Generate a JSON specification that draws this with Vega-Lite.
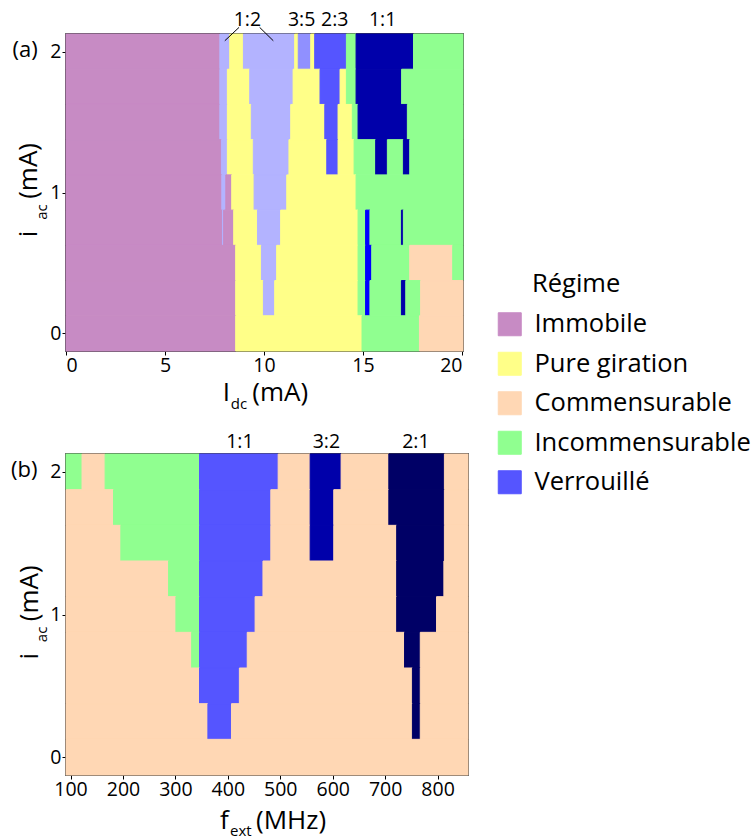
{
"$schema":"https://vega.github.io/schema/vega-lite/v6.json",
"padding":{"left":10,"top":8,"right":0,"bottom":0},
"background":"white",
"config":{"font":"Open Sans","view":{"stroke":"black","strokeWidth":1.5},
 "axis":{"grid":false,"domain":false,"tickColor":"black","tickSize":4,"tickWidth":1,"labelFontSize":19.5,"labelColor":"black","labelPadding":1,"title":null}},
"datasets":{
"rectsA":[
{"c":"Immobile","x0":0,"x1":7.77,"y0":1.875,"y1":2.125},
{"c":"Verrouillé clair","x0":7.77,"x1":8.27,"y0":1.875,"y1":2.125},
{"c":"Pure giration","x0":8.27,"x1":8.96,"y0":1.875,"y1":2.125},
{"c":"Verrouillé clair","x0":8.96,"x1":11.55,"y0":1.875,"y1":2.125},
{"c":"Pure giration","x0":11.55,"x1":11.73,"y0":1.875,"y1":2.125},
{"c":"Verrouillé moyen","x0":11.73,"x1":12.36,"y0":1.875,"y1":2.125},
{"c":"Pure giration","x0":12.36,"x1":12.56,"y0":1.875,"y1":2.125},
{"c":"Verrouillé","x0":12.56,"x1":14.16,"y0":1.875,"y1":2.125},
{"c":"Incommensurable","x0":14.16,"x1":14.65,"y0":1.875,"y1":2.125},
{"c":"Verrouillé foncé","x0":14.65,"x1":17.55,"y0":1.875,"y1":2.125},
{"c":"Incommensurable","x0":17.55,"x1":20.05,"y0":1.875,"y1":2.125},

{"c":"Immobile","x0":0,"x1":7.77,"y0":1.625,"y1":1.875},
{"c":"Verrouillé clair","x0":7.77,"x1":8.15,"y0":1.625,"y1":1.875},
{"c":"Pure giration","x0":8.15,"x1":9.28,"y0":1.625,"y1":1.875},
{"c":"Verrouillé clair","x0":9.28,"x1":11.47,"y0":1.625,"y1":1.875},
{"c":"Pure giration","x0":11.47,"x1":12.83,"y0":1.625,"y1":1.875},
{"c":"Verrouillé","x0":12.83,"x1":13.84,"y0":1.625,"y1":1.875},
{"c":"Pure giration","x0":13.84,"x1":14.16,"y0":1.625,"y1":1.875},
{"c":"Incommensurable","x0":14.16,"x1":14.65,"y0":1.625,"y1":1.875},
{"c":"Verrouillé foncé","x0":14.65,"x1":16.95,"y0":1.625,"y1":1.875},
{"c":"Incommensurable","x0":16.95,"x1":20.05,"y0":1.625,"y1":1.875},

{"c":"Immobile","x0":0,"x1":7.77,"y0":1.375,"y1":1.625},
{"c":"Verrouillé clair","x0":7.77,"x1":8.15,"y0":1.375,"y1":1.625},
{"c":"Pure giration","x0":8.15,"x1":9.36,"y0":1.375,"y1":1.625},
{"c":"Verrouillé clair","x0":9.36,"x1":11.35,"y0":1.375,"y1":1.625},
{"c":"Pure giration","x0":11.35,"x1":13.07,"y0":1.375,"y1":1.625},
{"c":"Verrouillé","x0":13.07,"x1":13.74,"y0":1.375,"y1":1.625},
{"c":"Pure giration","x0":13.74,"x1":14.46,"y0":1.375,"y1":1.625},
{"c":"Incommensurable","x0":14.46,"x1":14.75,"y0":1.375,"y1":1.625},
{"c":"Verrouillé foncé","x0":14.75,"x1":17.24,"y0":1.375,"y1":1.625},
{"c":"Incommensurable","x0":17.24,"x1":20.05,"y0":1.375,"y1":1.625},

{"c":"Immobile","x0":0,"x1":7.85,"y0":1.125,"y1":1.375},
{"c":"Verrouillé clair","x0":7.85,"x1":8.15,"y0":1.125,"y1":1.375},
{"c":"Pure giration","x0":8.15,"x1":9.46,"y0":1.125,"y1":1.375},
{"c":"Verrouillé clair","x0":9.46,"x1":11.26,"y0":1.125,"y1":1.375},
{"c":"Pure giration","x0":11.26,"x1":13.17,"y0":1.125,"y1":1.375},
{"c":"Verrouillé","x0":13.17,"x1":13.74,"y0":1.125,"y1":1.375},
{"c":"Pure giration","x0":13.74,"x1":14.55,"y0":1.125,"y1":1.375},
{"c":"Incommensurable","x0":14.55,"x1":15.64,"y0":1.125,"y1":1.375},
{"c":"Verrouillé foncé","x0":15.64,"x1":16.23,"y0":1.125,"y1":1.375},
{"c":"Incommensurable","x0":16.23,"x1":17.04,"y0":1.125,"y1":1.375},
{"c":"Verrouillé foncé","x0":17.04,"x1":17.36,"y0":1.125,"y1":1.375},
{"c":"Incommensurable","x0":17.36,"x1":20.05,"y0":1.125,"y1":1.375},

{"c":"Immobile","x0":0,"x1":7.87,"y0":0.875,"y1":1.125},
{"c":"Verrouillé clair","x0":7.87,"x1":8.07,"y0":0.875,"y1":1.125},
{"c":"Immobile","x0":8.07,"x1":8.37,"y0":0.875,"y1":1.125},
{"c":"Pure giration","x0":8.37,"x1":9.5,"y0":0.875,"y1":1.125},
{"c":"Verrouillé clair","x0":9.5,"x1":11.15,"y0":0.875,"y1":1.125},
{"c":"Pure giration","x0":11.15,"x1":14.65,"y0":0.875,"y1":1.125},
{"c":"Incommensurable","x0":14.65,"x1":20.05,"y0":0.875,"y1":1.125},

{"c":"Immobile","x0":0,"x1":7.9,"y0":0.625,"y1":0.875},
{"c":"Verrouillé clair","x0":7.9,"x1":7.96,"y0":0.625,"y1":0.875},
{"c":"Immobile","x0":7.96,"x1":8.47,"y0":0.625,"y1":0.875},
{"c":"Pure giration","x0":8.47,"x1":9.67,"y0":0.625,"y1":0.875},
{"c":"Verrouillé clair","x0":9.67,"x1":10.84,"y0":0.625,"y1":0.875},
{"c":"Pure giration","x0":10.84,"x1":14.75,"y0":0.625,"y1":0.875},
{"c":"Incommensurable","x0":14.75,"x1":15.13,"y0":0.625,"y1":0.875},
{"c":"Verrouillé vif","x0":15.13,"x1":15.35,"y0":0.625,"y1":0.875},
{"c":"Incommensurable","x0":15.35,"x1":16.94,"y0":0.625,"y1":0.875},
{"c":"Verrouillé foncé","x0":16.94,"x1":17.04,"y0":0.625,"y1":0.875},
{"c":"Incommensurable","x0":17.04,"x1":20.05,"y0":0.625,"y1":0.875},

{"c":"Immobile","x0":0,"x1":8.57,"y0":0.375,"y1":0.625},
{"c":"Pure giration","x0":8.57,"x1":9.87,"y0":0.375,"y1":0.625},
{"c":"Verrouillé clair","x0":9.87,"x1":10.64,"y0":0.375,"y1":0.625},
{"c":"Pure giration","x0":10.64,"x1":14.75,"y0":0.375,"y1":0.625},
{"c":"Incommensurable","x0":14.75,"x1":15.13,"y0":0.375,"y1":0.625},
{"c":"Verrouillé vif","x0":15.13,"x1":15.44,"y0":0.375,"y1":0.625},
{"c":"Incommensurable","x0":15.44,"x1":17.36,"y0":0.375,"y1":0.625},
{"c":"Commensurable","x0":17.36,"x1":19.53,"y0":0.375,"y1":0.625},
{"c":"Incommensurable","x0":19.53,"x1":20.05,"y0":0.375,"y1":0.625},

{"c":"Immobile","x0":0,"x1":8.57,"y0":0.125,"y1":0.375},
{"c":"Pure giration","x0":8.57,"x1":9.97,"y0":0.125,"y1":0.375},
{"c":"Verrouillé clair","x0":9.97,"x1":10.54,"y0":0.125,"y1":0.375},
{"c":"Pure giration","x0":10.54,"x1":14.75,"y0":0.125,"y1":0.375},
{"c":"Incommensurable","x0":14.75,"x1":15.13,"y0":0.125,"y1":0.375},
{"c":"Verrouillé vif","x0":15.13,"x1":15.35,"y0":0.125,"y1":0.375},
{"c":"Incommensurable","x0":15.35,"x1":16.94,"y0":0.125,"y1":0.375},
{"c":"Verrouillé foncé","x0":16.94,"x1":17.16,"y0":0.125,"y1":0.375},
{"c":"Incommensurable","x0":17.16,"x1":17.91,"y0":0.125,"y1":0.375},
{"c":"Commensurable","x0":17.91,"x1":20.05,"y0":0.125,"y1":0.375},

{"c":"Immobile","x0":0,"x1":8.57,"y0":-0.125,"y1":0.125},
{"c":"Pure giration","x0":8.57,"x1":14.95,"y0":-0.125,"y1":0.125},
{"c":"Incommensurable","x0":14.95,"x1":17.85,"y0":-0.125,"y1":0.125},
{"c":"Commensurable","x0":17.85,"x1":20.05,"y0":-0.125,"y1":0.125}
],
"rectsB":[
{"c":"Incommensurable","x0":91.4,"x1":122,"y0":1.875,"y1":2.125},
{"c":"Commensurable","x0":122,"x1":166,"y0":1.875,"y1":2.125},
{"c":"Incommensurable","x0":166,"x1":346,"y0":1.875,"y1":2.125},
{"c":"Verrouillé","x0":346,"x1":496,"y0":1.875,"y1":2.125},
{"c":"Commensurable","x0":496,"x1":557,"y0":1.875,"y1":2.125},
{"c":"Verrouillé foncé","x0":557,"x1":616,"y0":1.875,"y1":2.125},
{"c":"Commensurable","x0":616,"x1":707,"y0":1.875,"y1":2.125},
{"c":"Verrouillé nuit","x0":707,"x1":813,"y0":1.875,"y1":2.125},
{"c":"Commensurable","x0":813,"x1":858,"y0":1.875,"y1":2.125},

{"c":"Commensurable","x0":91.4,"x1":182,"y0":1.625,"y1":1.875},
{"c":"Incommensurable","x0":182,"x1":346,"y0":1.625,"y1":1.875},
{"c":"Verrouillé","x0":346,"x1":482,"y0":1.625,"y1":1.875},
{"c":"Commensurable","x0":482,"x1":557,"y0":1.625,"y1":1.875},
{"c":"Verrouillé foncé","x0":557,"x1":602,"y0":1.625,"y1":1.875},
{"c":"Commensurable","x0":602,"x1":707,"y0":1.625,"y1":1.875},
{"c":"Verrouillé nuit","x0":707,"x1":813,"y0":1.625,"y1":1.875},
{"c":"Commensurable","x0":813,"x1":858,"y0":1.625,"y1":1.875},

{"c":"Commensurable","x0":91.4,"x1":196,"y0":1.375,"y1":1.625},
{"c":"Incommensurable","x0":196,"x1":346,"y0":1.375,"y1":1.625},
{"c":"Verrouillé","x0":346,"x1":482,"y0":1.375,"y1":1.625},
{"c":"Commensurable","x0":482,"x1":557,"y0":1.375,"y1":1.625},
{"c":"Verrouillé foncé","x0":557,"x1":602,"y0":1.375,"y1":1.625},
{"c":"Commensurable","x0":602,"x1":722,"y0":1.375,"y1":1.625},
{"c":"Verrouillé nuit","x0":722,"x1":813,"y0":1.375,"y1":1.625},
{"c":"Commensurable","x0":813,"x1":858,"y0":1.375,"y1":1.625},

{"c":"Commensurable","x0":91.4,"x1":287,"y0":1.125,"y1":1.375},
{"c":"Incommensurable","x0":287,"x1":346,"y0":1.125,"y1":1.375},
{"c":"Verrouillé","x0":346,"x1":467,"y0":1.125,"y1":1.375},
{"c":"Commensurable","x0":467,"x1":722,"y0":1.125,"y1":1.375},
{"c":"Verrouillé nuit","x0":722,"x1":812,"y0":1.125,"y1":1.375},
{"c":"Commensurable","x0":812,"x1":858,"y0":1.125,"y1":1.375},

{"c":"Commensurable","x0":91.4,"x1":301,"y0":0.875,"y1":1.125},
{"c":"Incommensurable","x0":301,"x1":346,"y0":0.875,"y1":1.125},
{"c":"Verrouillé","x0":346,"x1":452,"y0":0.875,"y1":1.125},
{"c":"Commensurable","x0":452,"x1":722,"y0":0.875,"y1":1.125},
{"c":"Verrouillé nuit","x0":722,"x1":798,"y0":0.875,"y1":1.125},
{"c":"Commensurable","x0":798,"x1":858,"y0":0.875,"y1":1.125},

{"c":"Commensurable","x0":91.4,"x1":331,"y0":0.625,"y1":0.875},
{"c":"Incommensurable","x0":331,"x1":346,"y0":0.625,"y1":0.875},
{"c":"Verrouillé","x0":346,"x1":437,"y0":0.625,"y1":0.875},
{"c":"Commensurable","x0":437,"x1":737,"y0":0.625,"y1":0.875},
{"c":"Verrouillé nuit","x0":737,"x1":767,"y0":0.625,"y1":0.875},
{"c":"Commensurable","x0":767,"x1":858,"y0":0.625,"y1":0.875},

{"c":"Commensurable","x0":91.4,"x1":346,"y0":0.375,"y1":0.625},
{"c":"Verrouillé","x0":346,"x1":422,"y0":0.375,"y1":0.625},
{"c":"Commensurable","x0":422,"x1":752,"y0":0.375,"y1":0.625},
{"c":"Verrouillé nuit","x0":752,"x1":767,"y0":0.375,"y1":0.625},
{"c":"Commensurable","x0":767,"x1":858,"y0":0.375,"y1":0.625},

{"c":"Commensurable","x0":91.4,"x1":362,"y0":0.125,"y1":0.375},
{"c":"Verrouillé","x0":362,"x1":407,"y0":0.125,"y1":0.375},
{"c":"Commensurable","x0":407,"x1":752,"y0":0.125,"y1":0.375},
{"c":"Verrouillé nuit","x0":752,"x1":767,"y0":0.125,"y1":0.375},
{"c":"Commensurable","x0":767,"x1":858,"y0":0.125,"y1":0.375},

{"c":"Commensurable","x0":91.4,"x1":858,"y0":-0.125,"y1":0.125}
]
},
"vconcat":[
{
"width":397,"height":317,
"layer":[
{"data":{"name":"rectsA"},"mark":{"type":"rect","strokeWidth":1},
 "encoding":{
  "x":{"field":"x0","type":"quantitative","scale":{"domain":[0,20.05],"nice":false,"zero":false},"axis":{"values":[0,5,10,15,20]}},
  "x2":{"field":"x1"},
  "y":{"field":"y0","type":"quantitative","scale":{"domain":[-0.125,2.125],"nice":false,"zero":false},"axis":{"values":[0,1,2],"format":"d"}},
  "y2":{"field":"y1"},
  "color":{"field":"c","type":"nominal",
   "scale":{"domain":["Immobile","Pure giration","Commensurable","Incommensurable","Verrouillé","Verrouillé clair","Verrouillé moyen","Verrouillé foncé","Verrouillé vif","Verrouillé nuit"],
            "range":["#C78BC4","#FFFF88","#FFD7B4","#90FF90","#5555FF","#B3B3FF","#9090FF","#0000AA","#0000FF","#000066"]},
   "legend":{"values":["Immobile","Pure giration","Commensurable","Incommensurable","Verrouillé"],"title":"Régime","orient":"none","legendX":431,"legendY":238,"padding":0,"symbolType":"square","symbolSize":529,"symbolStrokeColor":"#222222","symbolStrokeWidth":1,"symbolOpacity":1,"labelFontSize":25.5,"labelColor":"black","labelLimit":400,"titleFontSize":25.5,"titleFontWeight":"normal","titleColor":"black","titleLimit":400,"rowPadding":11.5,"labelOffset":12,"titlePadding":14,
     "encode":{"title":{"update":{"dx":{"value":35}}}}}},
  "stroke":{"field":"c","type":"nominal",
   "scale":{"domain":["Immobile","Pure giration","Commensurable","Incommensurable","Verrouillé","Verrouillé clair","Verrouillé moyen","Verrouillé foncé","Verrouillé vif","Verrouillé nuit"],
            "range":["#C78BC4","#FFFF88","#FFD7B4","#90FF90","#5555FF","#B3B3FF","#9090FF","#0000AA","#0000FF","#000066"]},
   "legend":null}
 }},
{"data":{"values":[{"x":8.74,"y":2.172,"x2":8.02,"y2":2.077},{"x":9.78,"y":2.172,"x2":10.47,"y2":2.077}]},
 "mark":{"type":"rule","color":"black","strokeWidth":1},
 "encoding":{"x":{"field":"x","type":"quantitative"},"x2":{"field":"x2"},"y":{"field":"y","type":"quantitative"},"y2":{"field":"y2"}}},
{"data":{"values":[{"t":"1:2","x":9.16,"y":2.184},{"t":"3:5","x":11.9,"y":2.184},{"t":"2:3","x":13.57,"y":2.184},{"t":"1:1","x":15.99,"y":2.184}]},
 "mark":{"type":"text","align":"center","baseline":"alphabetic","fontSize":19.5,"color":"black"},
 "encoding":{"x":{"field":"x","type":"quantitative"},"y":{"field":"y","type":"quantitative"},"text":{"field":"t"}}},
{"data":{"values":[{"t":"(a)","x":-2.7,"y":1.96}]},
 "mark":{"type":"text","align":"left","baseline":"alphabetic","fontSize":22,"color":"black"},
 "encoding":{"x":{"field":"x","type":"quantitative"},"y":{"field":"y","type":"quantitative"},"text":{"field":"t"}}},
{"data":{"values":[{"t":"I","x":7.92,"y":-0.48},{"t":"(mA)","x":9.41,"y":-0.48}]},
 "mark":{"type":"text","align":"left","baseline":"alphabetic","fontSize":26,"color":"black"},
 "encoding":{"x":{"field":"x","type":"quantitative"},"y":{"field":"y","type":"quantitative"},"text":{"field":"t"}}},
{"data":{"values":[{"t":"dc","x":8.32,"y":-0.535}]},
 "mark":{"type":"text","align":"left","baseline":"alphabetic","fontSize":15,"color":"black"},
 "encoding":{"x":{"field":"x","type":"quantitative"},"y":{"field":"y","type":"quantitative"},"text":{"field":"t"}}},
{"data":{"values":[{"t":"i","x":-1.444,"y":0.682},{"t":"(mA)","x":-1.444,"y":0.955}]},
 "mark":{"type":"text","align":"left","baseline":"alphabetic","angle":270,"fontSize":26,"color":"black"},
 "encoding":{"x":{"field":"x","type":"quantitative"},"y":{"field":"y","type":"quantitative"},"text":{"field":"t"}}},
{"data":{"values":[{"t":"ac","x":-0.975,"y":0.806}]},
 "mark":{"type":"text","align":"left","baseline":"alphabetic","angle":270,"fontSize":15,"color":"black"},
 "encoding":{"x":{"field":"x","type":"quantitative"},"y":{"field":"y","type":"quantitative"},"text":{"field":"t"}}}
]
},
{
"width":402,"height":321,
"layer":[
{"data":{"name":"rectsB"},"mark":{"type":"rect","strokeWidth":1},
 "encoding":{
  "x":{"field":"x0","type":"quantitative","scale":{"domain":[91.4,858],"nice":false,"zero":false},"axis":{"values":[100,200,300,400,500,600,700,800]}},
  "x2":{"field":"x1"},
  "y":{"field":"y0","type":"quantitative","scale":{"domain":[-0.125,2.125],"nice":false,"zero":false},"axis":{"values":[0,1,2],"format":"d"}},
  "y2":{"field":"y1"},
  "color":{"field":"c","type":"nominal",
   "scale":{"domain":["Immobile","Pure giration","Commensurable","Incommensurable","Verrouillé","Verrouillé clair","Verrouillé moyen","Verrouillé foncé","Verrouillé vif","Verrouillé nuit"],
            "range":["#C78BC4","#FFFF88","#FFD7B4","#90FF90","#5555FF","#B3B3FF","#9090FF","#0000AA","#0000FF","#000066"]},
   "legend":{"values":["Immobile","Pure giration","Commensurable","Incommensurable","Verrouillé"],"title":"Régime","orient":"none","legendX":431,"legendY":238,"padding":0,"symbolType":"square","symbolSize":529,"symbolStrokeColor":"#222222","symbolStrokeWidth":1,"symbolOpacity":1,"labelFontSize":25.5,"labelColor":"black","labelLimit":400,"titleFontSize":25.5,"titleFontWeight":"normal","titleColor":"black","titleLimit":400,"rowPadding":11.5,"labelOffset":12,"titlePadding":14,
     "encode":{"title":{"update":{"dx":{"value":35}}}}}},
  "stroke":{"field":"c","type":"nominal",
   "scale":{"domain":["Immobile","Pure giration","Commensurable","Incommensurable","Verrouillé","Verrouillé clair","Verrouillé moyen","Verrouillé foncé","Verrouillé vif","Verrouillé nuit"],
            "range":["#C78BC4","#FFFF88","#FFD7B4","#90FF90","#5555FF","#B3B3FF","#9090FF","#0000AA","#0000FF","#000066"]},
   "legend":null}
 }},
{"data":{"values":[{"t":"1:1","x":423,"y":2.167},{"t":"3:2","x":588,"y":2.167},{"t":"2:1","x":758.7,"y":2.167}]},
 "mark":{"type":"text","align":"center","baseline":"alphabetic","fontSize":19.5,"color":"black"},
 "encoding":{"x":{"field":"x","type":"quantitative"},"y":{"field":"y","type":"quantitative"},"text":{"field":"t"}}},
{"data":{"values":[{"t":"(b)","x":-13.4,"y":1.962}]},
 "mark":{"type":"text","align":"left","baseline":"alphabetic","fontSize":22,"color":"black"},
 "encoding":{"x":{"field":"x","type":"quantitative"},"y":{"field":"y","type":"quantitative"},"text":{"field":"t"}}},
{"data":{"values":[{"t":"f","x":385,"y":-0.507},{"t":"(MHz)","x":453.7,"y":-0.507}]},
 "mark":{"type":"text","align":"left","baseline":"alphabetic","fontSize":26,"color":"black"},
 "encoding":{"x":{"field":"x","type":"quantitative"},"y":{"field":"y","type":"quantitative"},"text":{"field":"t"}}},
{"data":{"values":[{"t":"ext","x":404.1,"y":-0.556}]},
 "mark":{"type":"text","align":"left","baseline":"alphabetic","fontSize":15,"color":"black"},
 "encoding":{"x":{"field":"x","type":"quantitative"},"y":{"field":"y","type":"quantitative"},"text":{"field":"t"}}},
{"data":{"values":[{"t":"i","x":37.5,"y":0.684},{"t":"(mA)","x":37.5,"y":0.953}]},
 "mark":{"type":"text","align":"left","baseline":"alphabetic","angle":270,"fontSize":26,"color":"black"},
 "encoding":{"x":{"field":"x","type":"quantitative"},"y":{"field":"y","type":"quantitative"},"text":{"field":"t"}}},
{"data":{"values":[{"t":"ac","x":55.2,"y":0.806}]},
 "mark":{"type":"text","align":"left","baseline":"alphabetic","angle":270,"fontSize":15,"color":"black"},
 "encoding":{"x":{"field":"x","type":"quantitative"},"y":{"field":"y","type":"quantitative"},"text":{"field":"t"}}}
]
}
],
"spacing":103,
"bounds":"flush"
}
